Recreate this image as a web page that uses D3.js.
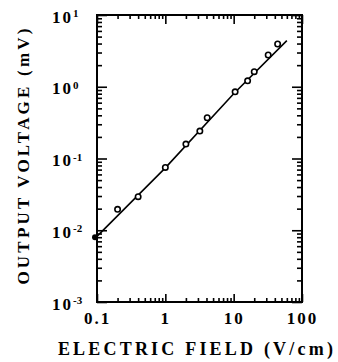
<!DOCTYPE html>
<html>
<head>
<meta charset="utf-8">
<script src="https://cdn.jsdelivr.net/npm/d3@7"></script>
<style>
  body { margin: 0; background: #fff; }
  svg { display: block; }
  .axis path, .axis line { stroke: #000; }
  .lbl { font-family: "Liberation Serif", serif; font-weight: bold; fill: #000; }
</style>
</head>
<body>
<div id="chart"></div>
<script>
// measured points (E in V/cm, V in mV)
const fieldValues = [0.2, 0.4, 1.0, 2.0, 3.2, 4.1, 10.5, 16, 20, 32, 44];
const voltValues = [0.0196, 0.0294, 0.075, 0.159, 0.241, 0.37, 0.85, 1.21, 1.62, 2.77, 3.94];
// filled point on the axis
const filledField = [0.1];
const filledVolt = [0.008];
// fitted line
const fitField = [0.1, 1, 10, 60];
const fitVolt = [0.0082, 0.074, 0.80, 4.4];

const xMajor = [0.1, 1, 10, 100];
const xLabels = ["0.1", "1", "10", "100"];
const yMajor = [1e-3, 1e-2, 1e-1, 1, 10];
const yExp = ["-3", "-2", "-1", "0", "1"];

const width = 338, height = 362;
let margin = {top: 15, right: 36, bottom: 60, left: 97},
    w = width - margin.left - margin.right,
    h = height - margin.top - margin.bottom;

let svg = d3.select("#chart").append("svg")
    .attr("width", width)
    .attr("height", height);
let g = svg.append("g")
    .attr("transform", "translate(" + margin.left + "," + margin.top + ")");

let x = d3.scaleLog().domain([0.1, 100]).range([0, w]);
let y = d3.scaleLog().domain([1e-3, 10]).range([h, 0]);

// minor ticks = all log ticks that are not decades
let xMinor = x.ticks().filter(d => xMajor.indexOf(d) < 0);
let yMinor = y.ticks().filter(d => yMajor.indexOf(d) < 0);

function styleAxis(sel) {
    sel.select(".domain").remove();
    sel.selectAll("line").attr("stroke-width", 1.6);
}

// bottom
g.append("g").attr("class", "axis").attr("transform", "translate(0," + h + ")")
    .call(d3.axisBottom(x).tickValues(xMinor).tickSize(-4).tickFormat(""))
    .call(styleAxis);
g.append("g").attr("class", "axis").attr("transform", "translate(0," + h + ")")
    .call(d3.axisBottom(x).tickValues(xMajor).tickSize(-8).tickPadding(10)
        .tickFormat((d, i) => xLabels[i]))
    .call(styleAxis)
    .selectAll("text").attr("class", "lbl")
    .style("font-size", "17px").style("letter-spacing", "2px");
// top
g.append("g").attr("class", "axis")
    .call(d3.axisTop(x).tickValues(xMinor).tickSize(-4).tickFormat(""))
    .call(styleAxis);
g.append("g").attr("class", "axis")
    .call(d3.axisTop(x).tickValues(xMajor).tickSize(-9).tickFormat(""))
    .call(styleAxis);
// left
g.append("g").attr("class", "axis")
    .call(d3.axisLeft(y).tickValues(yMinor).tickSize(-5).tickFormat(""))
    .call(styleAxis);
let yl = g.append("g").attr("class", "axis")
    .call(d3.axisLeft(y).tickValues(yMajor).tickSize(-10).tickFormat(""))
    .call(styleAxis);
yl.selectAll(".tick text")
    .attr("class", "lbl")
    .attr("text-anchor", "start")
    .attr("x", -45)
    .attr("dy", "0.42em")
    .style("font-size", "17px")
    .each(function (d, i) {
        let t = d3.select(this);
        t.append("tspan").style("letter-spacing", "2px").text("10");
        t.append("tspan").attr("dy", "-0.5em").style("font-size", "11px").text(yExp[i]);
    });
// right
g.append("g").attr("class", "axis").attr("transform", "translate(" + w + ",0)")
    .call(d3.axisRight(y).tickValues(yMinor).tickSize(-5).tickFormat(""))
    .call(styleAxis);
g.append("g").attr("class", "axis").attr("transform", "translate(" + w + ",0)")
    .call(d3.axisRight(y).tickValues(yMajor).tickSize(-10).tickFormat(""))
    .call(styleAxis);

// frame
g.append("rect")
    .attr("width", w).attr("height", h)
    .attr("fill", "none").attr("stroke", "#000").attr("stroke-width", 2);

// fitted line
let fit = fitField.map((d, i) => ({x: d, y: fitVolt[i]}));
g.append("path")
    .datum(fit)
    .attr("fill", "none")
    .attr("stroke", "#000")
    .attr("stroke-width", 1.6)
    .attr("d", d3.line().x(d => x(d.x)).y(d => y(d.y)));

// open circles
let pts = fieldValues.map((d, i) => ({x: d, y: voltValues[i]}));
g.selectAll(".pt")
    .data(pts)
    .enter().append("circle")
    .attr("class", "pt")
    .attr("cx", d => x(d.x))
    .attr("cy", d => y(d.y))
    .attr("r", 2.7)
    .attr("fill", "#fff")
    .attr("stroke", "#000")
    .attr("stroke-width", 1.6);

// filled point
g.selectAll(".fpt")
    .data(filledField.map((d, i) => ({x: d, y: filledVolt[i]})))
    .enter().append("circle")
    .attr("class", "fpt")
    .attr("cx", d => x(d.x) - 2)
    .attr("cy", d => y(d.y))
    .attr("r", 3)
    .attr("fill", "#000");

// axis titles
svg.append("text")
    .attr("class", "lbl")
    .attr("x", 197)
    .attr("y", 355)
    .attr("text-anchor", "middle")
    .style("font-size", "18px")
    .style("letter-spacing", "3.2px")
    .text("ELECTRIC FIELD (V/cm)");
svg.append("text")
    .attr("class", "lbl")
    .attr("transform", "translate(29,155) rotate(-90)")
    .attr("text-anchor", "middle")
    .style("font-size", "17px")
    .style("letter-spacing", "3.2px")
    .text("OUTPUT VOLTAGE (mV)");
</script>
</body>
</html>
